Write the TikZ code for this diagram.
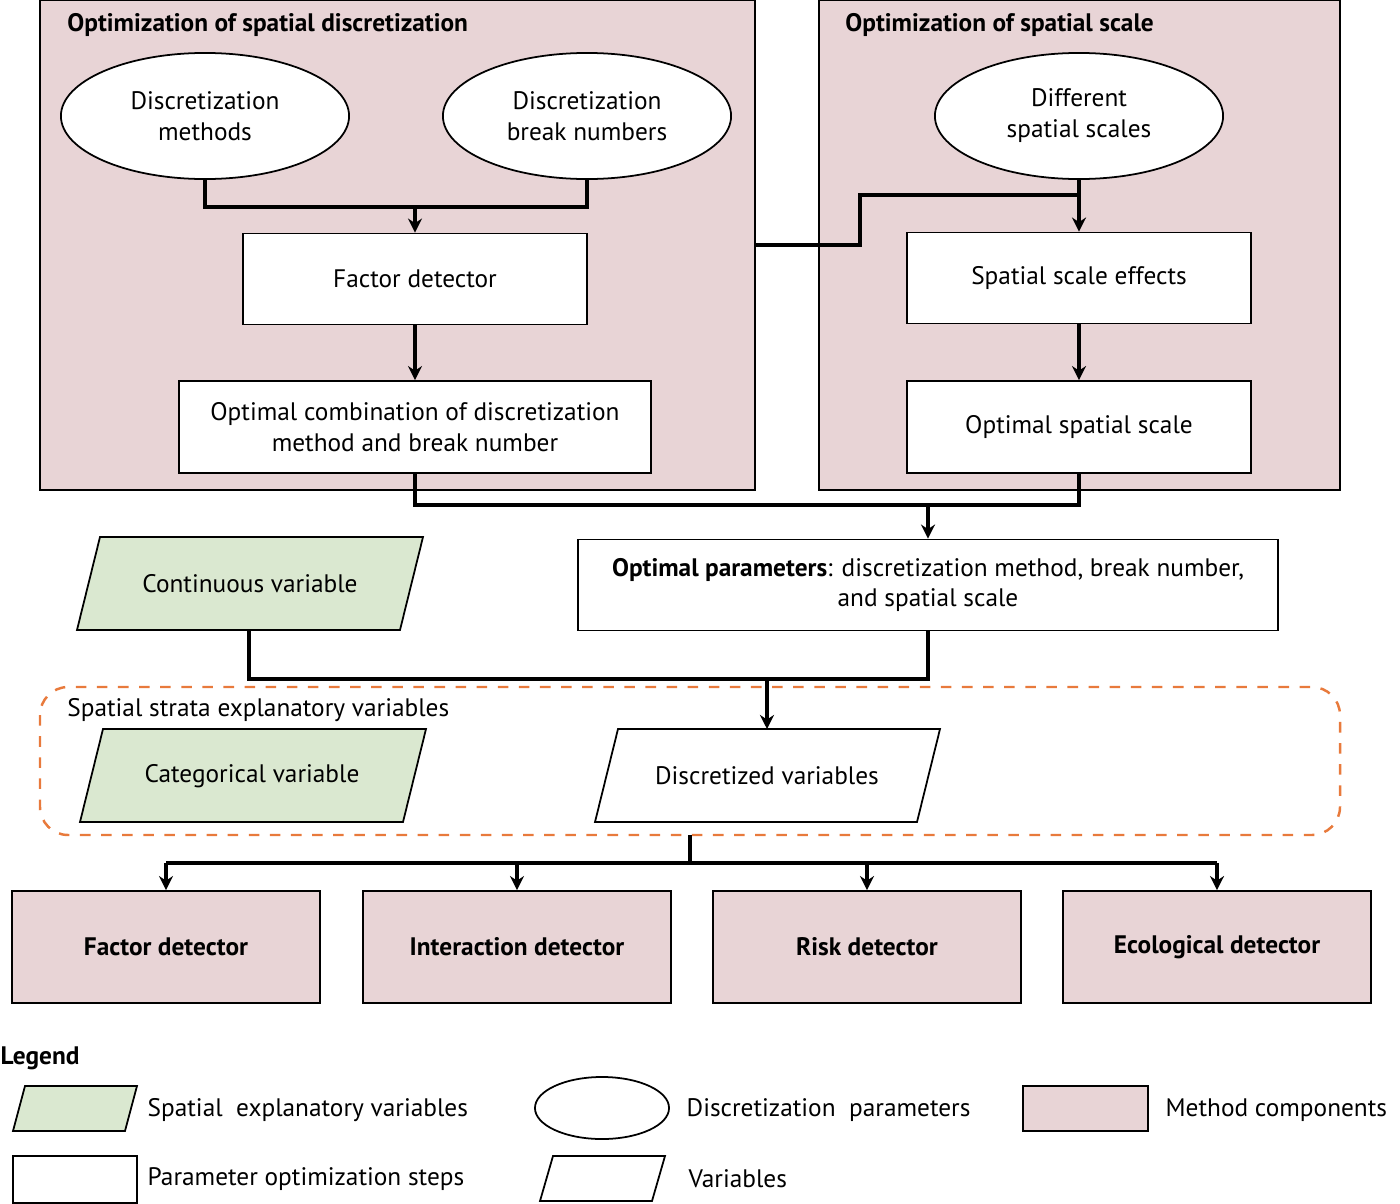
\documentclass[tikz,border=0pt]{standalone}
\usepackage{fontspec}
\setmainfont{PT Sans}
\usetikzlibrary{shapes.geometric,arrows.meta}
\definecolor{pinkc}{HTML}{E8D4D6}
\definecolor{greenc}{HTML}{DAE8D0}
\definecolor{orangec}{HTML}{E87A3C}
\tikzset{
 txt/.style={font=\fontsize{7.2}{8.8}\selectfont,align=center},
 box/.style={draw,line width=0.5pt,fill=white,txt,inner sep=0pt},
 pbox/.style={draw,line width=0.5pt,fill=pinkc},
 ell/.style={draw,ellipse,line width=0.5pt,fill=white,txt,inner sep=0pt},
 conn/.style={line width=1pt},
 arr/.style={line width=1pt,-{Stealth[length=4pt,width=4pt]}},
 para/.style={draw,line width=0.5pt},
}
\begin{document}
\begin{tikzpicture}[x=0.01cm,y=-0.01cm]
\useasboundingbox (0,0) rectangle (1400,1203);
% big boxes
\draw[pbox] (40,0) rectangle (755,490);
\draw[pbox] (819,0) rectangle (1340,490);
\node[txt,font=\fontsize{7.2}{8.8}\selectfont\bfseries,anchor=west] (t1) at (55,25) {Optimization of spatial discretization};
\node[txt,font=\fontsize{7.2}{8.8}\selectfont\bfseries,anchor=west] (t2) at (833,25) {Optimization of spatial scale};
\node[ell,minimum width=2.88cm,minimum height=1.26cm] (e1) at (205,116) {Discretization\\methods};
\node[ell,minimum width=2.88cm,minimum height=1.26cm] (e2) at (587,116) {Discretization\\break numbers};
\node[ell,minimum width=2.88cm,minimum height=1.26cm] (e3) at (1079,116) {Different\\spatial scales};
\node[box,minimum width=3.44cm,minimum height=0.91cm] (fd) at (415,279) {Factor detector};
\node[box,minimum width=4.72cm,minimum height=0.92cm] (oc) at (415,427) {Optimal combination of discretization\\method and break number};
\node[box,minimum width=3.44cm,minimum height=0.91cm] (sse) at (1079,278) {Spatial scale effects};
\node[box,minimum width=3.44cm,minimum height=0.92cm] (oss) at (1079,427) {Optimal spatial scale};
\coordinate (j1) at (415,207);
\draw[conn] (e1.south) -- (205,207) -- (587,207) -- (e2.south);
\draw[arr] (j1) -- (fd.north);
\draw[conn] (755,245) -- (860,245) -- (860,195) -- (1079,195);
\draw[arr] (e3.south) -- (sse.north);
\draw[arr] (fd) -- (oc);
\draw[arr] (sse) -- (oss);
\node[box,minimum width=6.99cm,minimum height=0.91cm] (op) at (928,585) {\textbf{Optimal parameters}: discretization method, break number,\\and spatial scale};
\coordinate (j2) at (928,505);
\draw[conn] (oc.south) -- (415,505) -- (1079,505) -- (oss.south);
\draw[arr] (j2) -- (op.north);
% continuous variable
\draw[para,fill=greenc] (77,630) -- (400,630) -- (423,537) -- (100,537) -- cycle;
\node[txt] (cv) at (250,584) {Continuous variable};
\coordinate (cvb) at (249,630);
\coordinate (j3) at (767,679);
% dashed region
\draw[orangec,dashed,line width=0.7pt,rounded corners=8pt] (40,687) rectangle (1340,835);
\node[txt,anchor=west] (sl) at (55,710) {Spatial strata explanatory variables};
\draw[para,fill=greenc] (80,822) -- (403,822) -- (426,729) -- (103,729) -- cycle;
\node[txt] (cat) at (252,776) {Categorical variable};
\draw[para,fill=white] (595,822) -- (917,822) -- (940,729) -- (618,729) -- cycle;
\node[txt] (dv) at (767,776) {Discretized variables};
\coordinate (dvt) at (767,729);
\draw[conn] (cvb) -- (249,679) -- (928,679) -- (op.south);
\draw[arr] (j3) -- (dvt);
% detectors
\tikzset{det/.style={pbox,txt,font=\fontsize{7.2}{8.8}\selectfont\bfseries,minimum width=3.08cm,minimum height=1.12cm,inner sep=0pt}}
\node[det] (d1) at (166,947) {Factor detector};
\node[det] (d2) at (517,947) {Interaction detector};
\node[det] (d3) at (867,947) {Risk detector};
\node[det] (d4) at (1217,947) {Ecological detector};
\coordinate (rb) at (690,835);
\draw[conn] (rb) -- (690,863);
\draw[conn] (166,863) -- (1217,863);
\draw[arr] (166,863) -- (d1.north);
\draw[arr] (517,863) -- (d2.north);
\draw[arr] (867,863) -- (d3.north);
\draw[arr] (1217,863) -- (d4.north);
% legend
\node[txt,font=\fontsize{7.2}{8.8}\selectfont\bfseries,anchor=west,inner sep=0pt] (lg) at (0,1058) {Legend};
\draw[para,fill=greenc] (13,1131) -- (125,1131) -- (137,1086) -- (25,1086) -- cycle;
\node[txt,anchor=west,inner sep=0pt] (l1) at (147,1110) {Spatial\ \ explanatory variables};
\node[ell,minimum width=1.34cm,minimum height=0.62cm] (le) at (602,1108) {};
\node[txt,anchor=west,inner sep=0pt] (l2) at (686,1110) {Discretization\ \ parameters};
\draw[pbox] (1023,1086) rectangle (1148,1131);
\node[txt,anchor=west,inner sep=0pt] (l3) at (1165,1110) {Method components};
\draw[para,fill=white] (13,1156) rectangle (137,1203);
\node[txt,anchor=west,inner sep=0pt] (l4) at (147,1179) {Parameter optimization steps};
\draw[para,fill=white] (540,1201) -- (652,1201) -- (665,1156) -- (553,1156) -- cycle;
\node[txt,anchor=west,inner sep=0pt] (l5) at (688,1179) {Variables};
\end{tikzpicture}
\end{document}
